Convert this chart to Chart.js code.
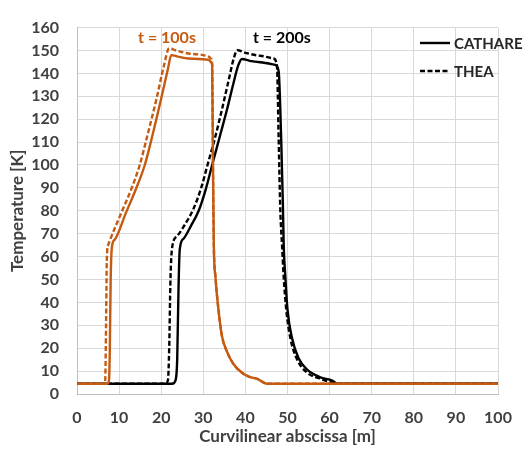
<!DOCTYPE html>
<html>
<head>
<meta charset="utf-8">
<script src="https://cdn.jsdelivr.net/npm/chart.js@4"></script>
<style>
  html, body { margin: 0; padding: 0; background: #fff; }
  #wrap { width: 526px; height: 452px; }
</style>
</head>
<body>
<div id="wrap"><canvas id="tempChart"></canvas></div>
<script>
// curvilinear abscissa [m] / temperature [K]
const cathare100X = [0, 7.2, 7.6, 7.8, 8.0, 8.3, 9.0, 11.6, 14.0, 16.1, 18.0, 20.0, 21.6, 22.4, 24.0, 26.5, 31.3, 31.8, 32.1, 32.3, 32.5, 32.9, 33.6, 34.4, 35.6, 37.2, 39.6, 41.0, 42.8, 45.1, 100];
const cathare100T = [4.5, 4.5, 6, 20, 50, 64.3, 67.5, 79, 89.5, 100, 113.5, 129, 142, 148, 147.3, 146.5, 145.9, 145, 143.7, 100, 65, 50.9, 36.8, 25.6, 18.6, 13, 8.7, 7.5, 6.6, 4.5, 4.5];

const thea100X = [0, 6.3, 6.7, 6.9, 7.1, 7.4, 8.0, 10.5, 12.9, 14.9, 16.8, 18.9, 20.6, 21.9, 23.5, 26.5, 31.3, 31.8, 32.1, 32.3, 32.5, 32.9, 33.6, 34.4, 35.6, 37.2, 39.6, 41.0, 42.8, 45.1, 100];
const thea100T = [4.5, 4.5, 6, 30, 60, 65, 68, 79, 89.5, 100, 113.5, 129, 143, 151, 150, 148.7, 147.3, 146.5, 144, 100, 65, 50.9, 36.8, 25.6, 18.6, 13, 8.7, 7.5, 6.6, 4.5, 4.5];

const cathare200X = [0, 22.6, 23.4, 23.8, 24.1, 24.4, 25.3, 27.1, 28.9, 30.6, 32.1, 34.0, 35.6, 37.0, 38.3, 39.2, 41.0, 43.5, 47.1, 47.9, 48.5, 48.9, 49.1, 49.5, 50.0, 51.1, 52.6, 54.6, 57.8, 60.6, 61.8, 100];
const cathare200T = [4.5, 4.5, 6, 15, 45, 63, 67.8, 73.5, 80, 89.5, 100, 113, 124, 134.5, 143.5, 146.3, 145.5, 144.9, 143.7, 140.9, 111.4, 83.2, 65, 50.9, 36.8, 24.2, 15.7, 10.8, 7.3, 5.9, 4.5, 4.5];

const thea200X = [0, 20.9, 21.6, 21.9, 22.2, 22.6, 23.8, 25.8, 27.7, 29.5, 31.0, 32.8, 34.4, 35.9, 37.3, 38.1, 40.0, 43.5, 46.7, 47.5, 47.9, 48.3, 48.7, 49.1, 49.7, 50.7, 52.3, 54.6, 57.8, 61.0, 62.5, 100];
const thea200T = [4.5, 4.5, 6, 20, 50, 64, 69, 74.5, 81, 90, 100, 112, 124, 136, 147, 150.1, 149, 147.7, 146.5, 143, 111.4, 80, 65, 50.9, 36.8, 24.2, 15, 9.4, 6.6, 4.8, 4.5, 4.5];

const xTicks = [0, 10, 20, 30, 40, 50, 60, 70, 80, 90, 100];
const yTicks = [0, 10, 20, 30, 40, 50, 60, 70, 80, 90, 100, 110, 120, 130, 140, 150, 160];

const ORANGE = '#C55A11';
const FONT = 'Lato, "Open Sans", sans-serif';

function toPoints(xs, ys) {
    return xs.map((x, i) => ({ x: x, y: ys[i] }));
}

function series(label, xs, ys, color, dashed) {
    return {
        label: label,
        data: toPoints(xs, ys),
        borderColor: color,
        backgroundColor: color,
        borderWidth: 2.4,
        borderDash: dashed ? [5, 2.5] : [],
        pointRadius: 0,
        cubicInterpolationMode: 'monotone',
        fill: false
    };
}

// legend + "t = ..." labels drawn inside the plot area
const overlay = {
    id: 'overlay',
    afterDatasetsDraw(chart) {
        const ctx = chart.ctx;
        const xs = chart.scales.x, ys = chart.scales.y;
        ctx.save();
        ctx.font = 'bold 16px ' + FONT;
        ctx.textBaseline = 'middle';
        ctx.textAlign = 'left';
        ctx.fillStyle = ORANGE;
        ctx.fillText('t = 100s', xs.getPixelForValue(14.5), ys.getPixelForValue(155.5));
        ctx.fillStyle = '#000';
        ctx.fillText('t = 200s', xs.getPixelForValue(41.8), ys.getPixelForValue(155.5));

        const items = [['CATHARE', []], ['THEA', [5, 2.5]]];
        ctx.font = 'bold 15px ' + FONT;
        items.forEach((it, i) => {
            const y = 43 + i * 28;
            ctx.strokeStyle = '#000';
            ctx.lineWidth = 2.4;
            ctx.setLineDash(it[1]);
            ctx.beginPath();
            ctx.moveTo(420, y);
            ctx.lineTo(450, y);
            ctx.stroke();
            ctx.setLineDash([]);
            ctx.fillStyle = '#262626';
            ctx.fillText(it[0], 454, y + 1);
        });
        ctx.restore();
    }
};

const ctx = document.getElementById('tempChart').getContext('2d');
const tempChart = new Chart(ctx, {
    type: 'line',
    data: {
        datasets: [
            series('CATHARE t=100s', cathare100X, cathare100T, ORANGE, false),
            series('THEA t=100s', thea100X, thea100T, ORANGE, true),
            series('CATHARE t=200s', cathare200X, cathare200T, '#000', false),
            series('THEA t=200s', thea200X, thea200T, '#000', true)
        ]
    },
    options: {
        responsive: true,
        maintainAspectRatio: false,
        animation: false,
        layout: { padding: { top: 15, right: 28, left: 0, bottom: 0 } },
        plugins: {
            legend: { display: false },
            tooltip: { enabled: false }
        },
        scales: {
            x: {
                type: 'linear',
                min: 0,
                max: 100,
                afterBuildTicks: axis => { axis.ticks = xTicks.map(v => ({ value: v })); },
                afterFit: axis => { axis.height = 58; },
                grid: { color: '#d9d9d9', drawTicks: false },
                border: { color: '#bfbfbf' },
                ticks: { padding: 14, color: '#404040', font: { family: FONT, size: 16, weight: 'bold' } },
                title: {
                    display: true,
                    text: 'Curvilinear abscissa [m]',
                    color: '#404040',
                    padding: { top: 0, bottom: 5 },
                    font: { family: FONT, size: 17, weight: 'bold' }
                }
            },
            y: {
                min: 0,
                max: 160,
                afterBuildTicks: axis => { axis.ticks = yTicks.map(v => ({ value: v })); },
                afterFit: axis => { axis.width = 77; },
                grid: { color: '#d9d9d9', drawTicks: false },
                border: { color: '#bfbfbf' },
                ticks: { padding: 18, color: '#404040', font: { family: FONT, size: 16, weight: 'bold' } },
                title: {
                    display: true,
                    text: 'Temperature [K]',
                    color: '#404040',
                    padding: { top: 7, bottom: 0 },
                    font: { family: FONT, size: 17, weight: 'bold' }
                }
            }
        }
    },
    plugins: [overlay]
});
</script>
</body>
</html>
